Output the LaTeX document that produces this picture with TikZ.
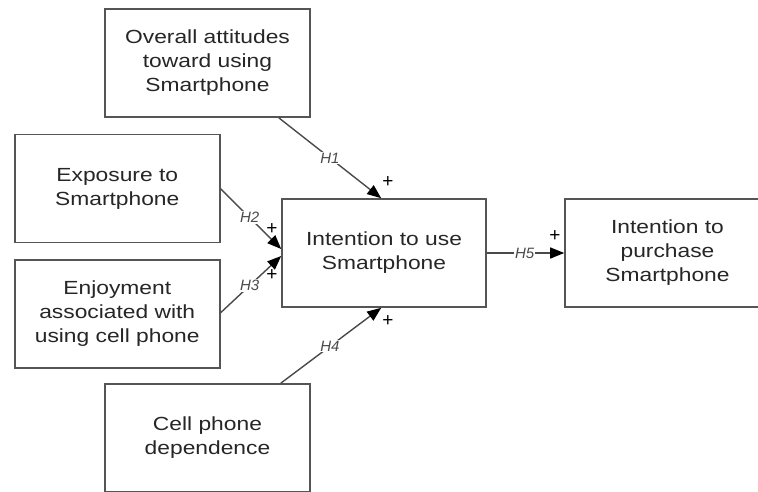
\documentclass[tikz,border=0pt]{standalone}
\usepackage{fontspec}
\setmainfont[FakeStretch=1.2]{Liberation Sans}
\newfontfamily\lblfont{Liberation Sans}
\usetikzlibrary{arrows.meta,calc}
\definecolor{boxline}{HTML}{555555}
\definecolor{conline}{HTML}{4A4A4A}
\definecolor{txt}{HTML}{262626}
\tikzset{
  box/.style={draw=boxline, line width=1.6pt, fill=white, minimum width=205pt, minimum height=108pt,
    inner sep=0pt, align=center, text=txt, font=\fontsize{19pt}{24pt}\selectfont},
  conn/.style={draw=conline, line width=1.4pt, -{Triangle[length=14pt,width=11pt,color=black]}},
  hlab/.style={fill=white, inner sep=1pt, text=conline, font=\lblfont\itshape\fontsize{15pt}{16pt}\selectfont},
  plus/.style={inner sep=0pt, text=black, font=\lblfont\fontsize{19pt}{20pt}\selectfont}
}
\begin{document}
\begin{tikzpicture}[x=1pt, y=-1pt]
\useasboundingbox (0,0) rectangle (758,491);
\node[box] (att) at (207.5,63) {Overall attitudes\\toward using\\Smartphone};
\node[box] (exp) at (117.25,188.5) {Exposure to\\Smartphone};
\node[box] (enj) at (117.25,314) {Enjoyment\\associated with\\using cell phone};
\node[box] (dep) at (207.5,438) {Cell phone\\dependence};
\node[box, minimum width=204pt] (use) at (384,253) {Intention to use\\Smartphone};
\node[box] (pur) at (667.5,253) {Intention to\\purchase\\Smartphone};

\draw[conn] ([xshift=-32pt]att.south east) -- node[hlab, pos=0.5] {H1} ([xshift=100pt]use.north west);
\draw[conn] ([yshift=-55pt]exp.north east) -- node[hlab, pos=0.48] {H2} ([yshift=4pt]use.west);
\draw[conn] ([yshift=56pt]enj.south east) -- node[hlab, pos=0.48] {H3} ([yshift=-3pt]use.west);
\draw[conn] ([xshift=-30pt]dep.north east) -- node[hlab, pos=0.49] {H4} ([xshift=100pt]use.south west);
\draw[conn] (use.east) -- node[hlab, pos=0.49] {H5} (pur.west);

\node[plus] (p1) at (388,182) {+};
\node[plus] (p2) at (272,229) {+};
\node[plus] (p3) at (272,275) {+};
\node[plus] (p4) at (388,321) {+};
\node[plus] (p5) at (555,236) {+};
\end{tikzpicture}
\end{document}
